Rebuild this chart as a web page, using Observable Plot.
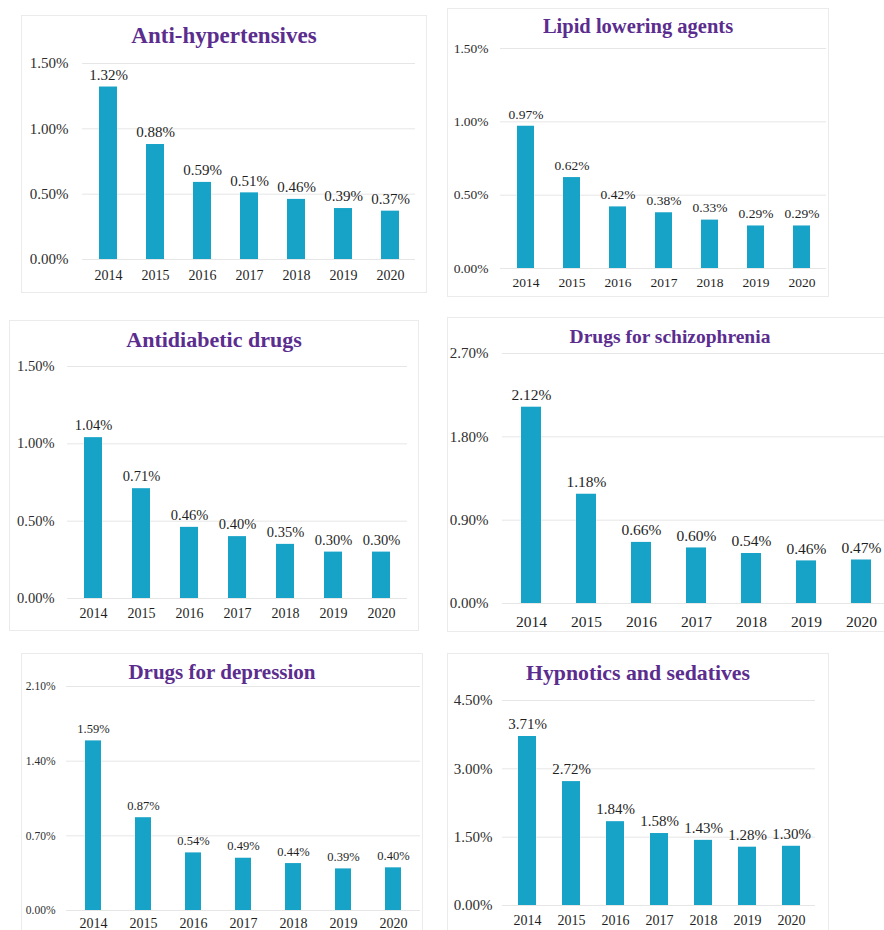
<!DOCTYPE html>
<html>
<head>
<meta charset="utf-8">
<script src="https://cdn.jsdelivr.net/npm/d3@7"></script>
<script src="https://cdn.jsdelivr.net/npm/@observablehq/plot@0.6"></script>
<style>
  html, body { margin: 0; padding: 0; background: #ffffff; }
  #page { position: relative; width: 884px; height: 930px; overflow: hidden; background: #ffffff; }
  .panel { position: absolute; background: #ffffff; box-shadow: 0 0 0 1px #ebebeb; }
  .panel svg { position: absolute; left: 0; top: 0; overflow: visible; }
  .title {
    position: absolute; left: 0; width: 100%; text-align: center;
    font-family: "Liberation Serif", "Times New Roman", serif; font-weight: bold;
    color: #5b2d8e; line-height: 1; white-space: nowrap;
  }
</style>
</head>
<body>
<div id="page"></div>
<script>
// Share of prescriptions per drug class, 2014–2020 (percent)
const years = ["2014", "2015", "2016", "2017", "2018", "2019", "2020"];

const antiHypertensives = [1.32, 0.88, 0.59, 0.51, 0.46, 0.39, 0.37];
const lipidLowering     = [0.97, 0.62, 0.42, 0.38, 0.33, 0.29, 0.29];
const antidiabetic      = [1.04, 0.71, 0.46, 0.40, 0.35, 0.30, 0.30];
const schizophrenia     = [2.12, 1.18, 0.66, 0.60, 0.54, 0.46, 0.47];
const depression        = [1.59, 0.87, 0.54, 0.49, 0.44, 0.39, 0.40];
const hypnotics         = [3.71, 2.72, 1.84, 1.58, 1.43, 1.28, 1.30];

const titles = [
  "Anti-hypertensives", "Lipid lowering agents", "Antidiabetic drugs",
  "Drugs for schizophrenia", "Drugs for depression", "Hypnotics and sedatives"
];

const ticks15 = [0, 0.5, 1.0, 1.5];
const ticks27 = [0, 0.9, 1.8, 2.7];
const ticks21 = [0, 0.7, 1.4, 2.1];
const ticks45 = [0, 1.5, 3.0, 4.5];

const series = [antiHypertensives, lipidLowering, antidiabetic, schizophrenia, depression, hypnotics];
const tickSets = [ticks15, ticks15, ticks15, ticks27, ticks21, ticks45];

// Panel boxes and typography
const layout = [
  {left: 22,  top: 16,  width: 404, height: 276, m: [47, 11, 33, 60], titleSize: 23, titleBase: 27,
   tickSize: 15, yearSize: 14, valueSize: 15, padY: 14, padX: 11, inner: 0.62},
  {left: 448, top: 9,   width: 380, height: 287, m: [39, 2, 28, 52], titleSize: 20.5, titleBase: 24,
   tickSize: 13.5, yearSize: 13.5, valueSize: 13.5, padY: 12, padX: 9, inner: 0.635},
  {left: 10,  top: 321, width: 408, height: 309, m: [45, 11, 32, 57], titleSize: 22, titleBase: 26,
   tickSize: 14.5, yearSize: 14, valueSize: 14.5, padY: 13, padX: 10, inner: 0.63},
  {left: 448, top: 318, width: 444, height: 313, m: [35, 2, 28, 54], titleSize: 19.5, titleBase: 25,
   tickSize: 15, yearSize: 15.5, valueSize: 15.5, padY: 14, padX: 12, inner: 0.64},
  {left: 22,  top: 654, width: 400, height: 292, m: [32, 2, 36, 44], titleSize: 21, titleBase: 26,
   tickSize: 11.5, yearSize: 14, valueSize: 12.5, padY: 11, padX: 8, inner: 0.68},
  {left: 448, top: 654, width: 380, height: 292, m: [46, 13, 41, 54], titleSize: 21.8, titleBase: 27,
   tickSize: 15, yearSize: 14, valueSize: 15, padY: 10, padX: 10, inner: 0.60}
];

const barColor = "#17a3c7";
const gridColor = "#e6e6e6";
const textColor = "#1f1f1f";
const pct = d => d.toFixed(2) + "%";

const page = document.getElementById("page");

series.forEach((values, i) => {
  const L = layout[i];
  const ticks = tickSets[i];
  const data = years.map((year, j) => ({year, value: values[j]}));

  const panel = document.createElement("div");
  panel.className = "panel";
  Object.assign(panel.style, {
    left: L.left + "px", top: L.top + "px", width: L.width + "px", height: L.height + "px"
  });

  const chart = Plot.plot({
    width: L.width,
    height: L.height,
    marginTop: L.m[0], marginRight: L.m[1], marginBottom: L.m[2], marginLeft: L.m[3],
    style: {fontFamily: "'Liberation Serif', 'Times New Roman', serif", background: "transparent", color: textColor},
    x: {domain: years, paddingInner: L.inner, paddingOuter: L.inner / 2, label: null},
    y: {domain: [0, ticks[ticks.length - 1]], label: null},
    marks: [
      Plot.gridY(ticks, {stroke: gridColor, strokeOpacity: 1, strokeWidth: 1}),
      Plot.barY(data, {x: "year", y: "value", fill: barColor}),
      Plot.text(data, {x: "year", y: "value", text: d => pct(d.value), dy: -12,
        fontSize: L.valueSize, fill: textColor}),
      Plot.axisX({tickSize: 0, tickPadding: L.padX, fontSize: L.yearSize, fill: textColor, label: null}),
      Plot.axisY({ticks, tickSize: 0, tickPadding: L.padY, tickFormat: pct, fontSize: L.tickSize,
        fill: "#2e2e2e", label: null})
    ]
  });
  panel.appendChild(chart);

  const title = document.createElement("div");
  title.className = "title";
  title.textContent = titles[i];
  title.style.fontSize = L.titleSize + "px";
  title.style.top = (L.titleBase - 0.8375 * L.titleSize) + "px";
  panel.appendChild(title);

  page.appendChild(panel);
});
</script>
</body>
</html>
